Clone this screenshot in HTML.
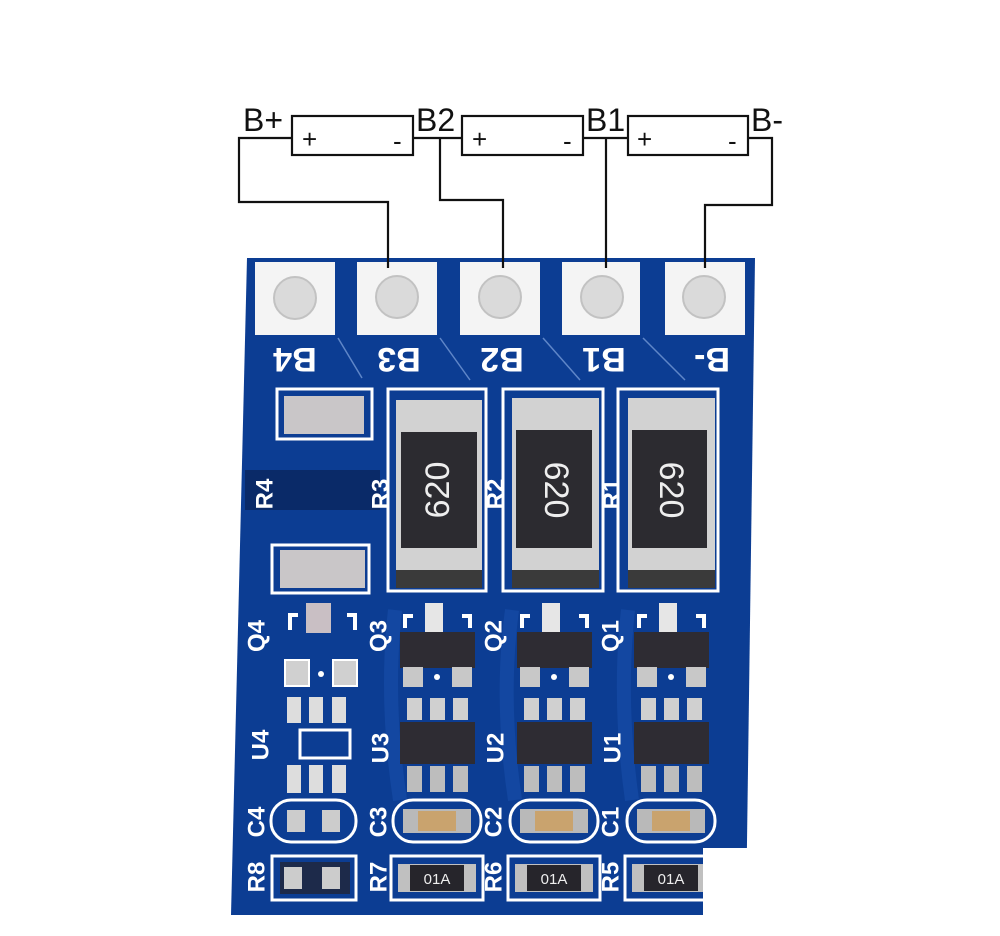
<!DOCTYPE html>
<html><head><meta charset="utf-8"><style>
html,body{margin:0;padding:0;background:#fff;}
svg{display:block;}
text{font-family:"Liberation Sans",sans-serif;}
</style></head><body>
<svg width="1000" height="936" viewBox="0 0 1000 936" xmlns="http://www.w3.org/2000/svg">
<rect width="1000" height="936" fill="#fff"/>
<!-- board -->
<polygon points="247,258 755,258 746,915 231,915" fill="#0c3d93"/>
<rect x="245" y="470" width="135" height="40" fill="#0a2a68"/>
<g fill="none" stroke="#1a52b0" stroke-width="14" opacity="0.5">
<path d="M395,610 Q385,700 400,800"/><path d="M512,610 Q500,700 515,800"/><path d="M628,610 Q618,700 632,800"/>
</g>
<!-- pads -->
<g fill="#f4f4f4">
<rect x="255" y="262" width="80" height="73"/><rect x="357" y="262" width="80" height="73"/>
<rect x="460" y="262" width="80" height="73"/><rect x="562" y="262" width="78" height="73"/>
<rect x="665" y="262" width="80" height="73"/>
</g>
<g fill="#dadada" stroke="#c2c2c2" stroke-width="2">
<circle cx="295" cy="298" r="21"/><circle cx="397" cy="297" r="21"/><circle cx="500" cy="297" r="21"/><circle cx="602" cy="297" r="21"/><circle cx="704" cy="297" r="21"/>
</g>
<g stroke="#5f86c8" stroke-width="1.5">
<line x1="338" y1="338" x2="362" y2="378"/><line x1="440" y1="338" x2="470" y2="380"/><line x1="543" y1="338" x2="580" y2="380"/><line x1="643" y1="338" x2="685" y2="380"/>
</g>
<g fill="#fff" font-size="34" font-weight="bold" text-anchor="middle">
<text transform="translate(295,357) rotate(180)" dominant-baseline="middle">B4</text>
<text transform="translate(399,357) rotate(180)" dominant-baseline="middle">B3</text>
<text transform="translate(502,357) rotate(180)" dominant-baseline="middle">B2</text>
<text transform="translate(604,357) rotate(180)" dominant-baseline="middle">B1</text>
<text transform="translate(712,357) rotate(180)" dominant-baseline="middle">B-</text>
</g>
<g stroke="#fff" stroke-width="3" fill="none">
<rect x="277" y="389" width="95" height="50"/><rect x="272" y="545" width="97" height="48"/>
<rect x="388" y="389" width="98" height="202"/><rect x="503" y="389" width="100" height="202"/><rect x="618" y="389" width="100" height="202"/>
</g>
<rect x="284" y="396" width="80" height="38" fill="#c9c6c8"/>
<rect x="280" y="550" width="85" height="38" fill="#c9c6c8"/>
<g>
<rect x="396" y="400" width="86" height="180" fill="#d2d2d2"/><rect x="396" y="570" width="86" height="18" fill="#3a3a3a"/><rect x="401" y="432" width="76" height="116" fill="#2c2b30"/>
<rect x="512" y="398" width="87" height="182" fill="#d2d2d2"/><rect x="512" y="570" width="87" height="18" fill="#3a3a3a"/><rect x="516" y="430" width="76" height="118" fill="#2c2b30"/>
<rect x="628" y="398" width="87" height="182" fill="#d2d2d2"/><rect x="628" y="570" width="87" height="18" fill="#3a3a3a"/><rect x="632" y="430" width="75" height="118" fill="#2c2b30"/>
</g>
<g fill="#eee" font-size="34" text-anchor="middle">
<text transform="translate(440,490) rotate(-90)" dominant-baseline="middle">620</text>
<text transform="translate(554,490) rotate(90)" dominant-baseline="middle">620</text>
<text transform="translate(669,490) rotate(90)" dominant-baseline="middle">620</text>
</g>
<g fill="#fff" font-size="24" font-weight="bold" text-anchor="middle">
<text transform="translate(266,494) rotate(-90)" dominant-baseline="middle">R4</text>
<text transform="translate(382,494) rotate(-90)" dominant-baseline="middle">R3</text>
<text transform="translate(497,494) rotate(-90)" dominant-baseline="middle">R2</text>
<text transform="translate(613,494) rotate(-90)" dominant-baseline="middle">R1</text>
<text transform="translate(258,636) rotate(-90)" dominant-baseline="middle">Q4</text>
<text transform="translate(380,636) rotate(-90)" dominant-baseline="middle">Q3</text>
<text transform="translate(495,636) rotate(-90)" dominant-baseline="middle">Q2</text>
<text transform="translate(612,636) rotate(-90)" dominant-baseline="middle">Q1</text>
<text transform="translate(262,745) rotate(-90)" dominant-baseline="middle">U4</text>
<text transform="translate(382,748) rotate(-90)" dominant-baseline="middle">U3</text>
<text transform="translate(497,748) rotate(-90)" dominant-baseline="middle">U2</text>
<text transform="translate(614,748) rotate(-90)" dominant-baseline="middle">U1</text>
<text transform="translate(258,822) rotate(-90)" dominant-baseline="middle">C4</text>
<text transform="translate(380,822) rotate(-90)" dominant-baseline="middle">C3</text>
<text transform="translate(495,822) rotate(-90)" dominant-baseline="middle">C2</text>
<text transform="translate(612,822) rotate(-90)" dominant-baseline="middle">C1</text>
<text transform="translate(258,877) rotate(-90)" dominant-baseline="middle">R8</text>
<text transform="translate(380,877) rotate(-90)" dominant-baseline="middle">R7</text>
<text transform="translate(495,877) rotate(-90)" dominant-baseline="middle">R6</text>
<text transform="translate(612,877) rotate(-90)" dominant-baseline="middle">R5</text>
</g>
<g>
<rect x="306" y="603" width="25" height="30" fill="#c9bfc4"/>
<path d="M290,630 v-15 h8 M355,630 v-15 h-8" stroke="#fff" stroke-width="4" fill="none"/>
<rect x="285" y="660" width="24" height="26" fill="#d0d0d0" stroke="#fff" stroke-width="2"/>
<rect x="333" y="660" width="24" height="26" fill="#d0d0d0" stroke="#fff" stroke-width="2"/>
<circle cx="321" cy="674" r="3" fill="#fff"/>
<rect x="287" y="697" width="14" height="26" fill="#ddd"/><rect x="309" y="697" width="14" height="26" fill="#ddd"/><rect x="332" y="697" width="14" height="26" fill="#ddd"/>
<rect x="300" y="730" width="50" height="28" fill="none" stroke="#fff" stroke-width="3"/>
<rect x="287" y="765" width="14" height="28" fill="#ddd"/><rect x="309" y="765" width="14" height="28" fill="#ddd"/><rect x="332" y="765" width="14" height="28" fill="#ddd"/>
<rect x="271" y="800" width="85" height="42" rx="20" fill="none" stroke="#fff" stroke-width="3"/>
<rect x="287" y="810" width="18" height="22" fill="#ccc"/><rect x="322" y="810" width="18" height="22" fill="#ccc"/>
<rect x="272" y="856" width="84" height="44" fill="none" stroke="#fff" stroke-width="3"/>
<rect x="280" y="862" width="70" height="32" fill="#1d2a4a"/>
<rect x="284" y="867" width="18" height="22" fill="#ccc"/><rect x="322" y="867" width="18" height="22" fill="#ccc"/>
</g>
<g id="ch">
<rect x="425" y="603" width="18" height="30" fill="#e6e6e6"/>
<path d="M405,628 v-12 h8 M470,628 v-12 h-8" stroke="#fff" stroke-width="4" fill="none"/>
<rect x="400" y="632" width="75" height="36" fill="#2e2c33"/>
<rect x="403" y="667" width="20" height="20" fill="#c8c8c8"/><rect x="452" y="667" width="20" height="20" fill="#c8c8c8"/>
<circle cx="437" cy="677" r="3" fill="#fff"/>
<rect x="407" y="698" width="15" height="22" fill="#d0d0d0"/><rect x="430" y="698" width="15" height="22" fill="#d0d0d0"/><rect x="453" y="698" width="15" height="22" fill="#d0d0d0"/>
<rect x="400" y="722" width="75" height="42" fill="#2e2c33"/>
<rect x="407" y="766" width="15" height="26" fill="#bdbdbd"/><rect x="430" y="766" width="15" height="26" fill="#bdbdbd"/><rect x="453" y="766" width="15" height="26" fill="#bdbdbd"/>
<rect x="393" y="800" width="88" height="42" rx="20" fill="none" stroke="#fff" stroke-width="3"/>
<rect x="403" y="809" width="68" height="24" fill="#b9b9b9"/><rect x="418" y="811" width="38" height="20" fill="#c9a36e"/>
<rect x="391" y="856" width="92" height="44" fill="none" stroke="#fff" stroke-width="3"/>
<rect x="398" y="864" width="78" height="28" fill="#c0c0c0"/><rect x="410" y="865" width="54" height="26" fill="#26252b"/>
<text x="437" y="884" fill="#eee" font-size="15" text-anchor="middle">01A</text>
</g>
<use href="#ch" x="117"/>
<use href="#ch" x="234"/>
<rect x="703" y="848" width="297" height="88" fill="#fff"/>
<g stroke="#111" stroke-width="2.2" fill="none">
<rect x="292" y="116" width="121" height="39"/>
<rect x="462" y="116" width="121" height="39"/>
<rect x="628" y="116" width="120" height="39"/>
<path d="M292,138 H239 V202 H388 V268"/>
<path d="M413,138 H462"/>
<path d="M440,138 V200 H503 V268"/>
<path d="M583,138 H628"/>
<path d="M606,138 V268"/>
<path d="M748,138 H772 V205 H705 V268"/>
</g>
<g fill="#111" font-size="32">
<text x="243" y="131">B+</text>
<text x="416" y="131">B2</text>
<text x="586" y="131">B1</text>
<text x="751" y="131">B-</text>
</g>
<g fill="#111" font-size="26">
<text x="302" y="148">+</text><text x="393" y="150">-</text>
<text x="472" y="148">+</text><text x="563" y="150">-</text>
<text x="637" y="148">+</text><text x="728" y="150">-</text>
</g>
</svg>
</body></html>
